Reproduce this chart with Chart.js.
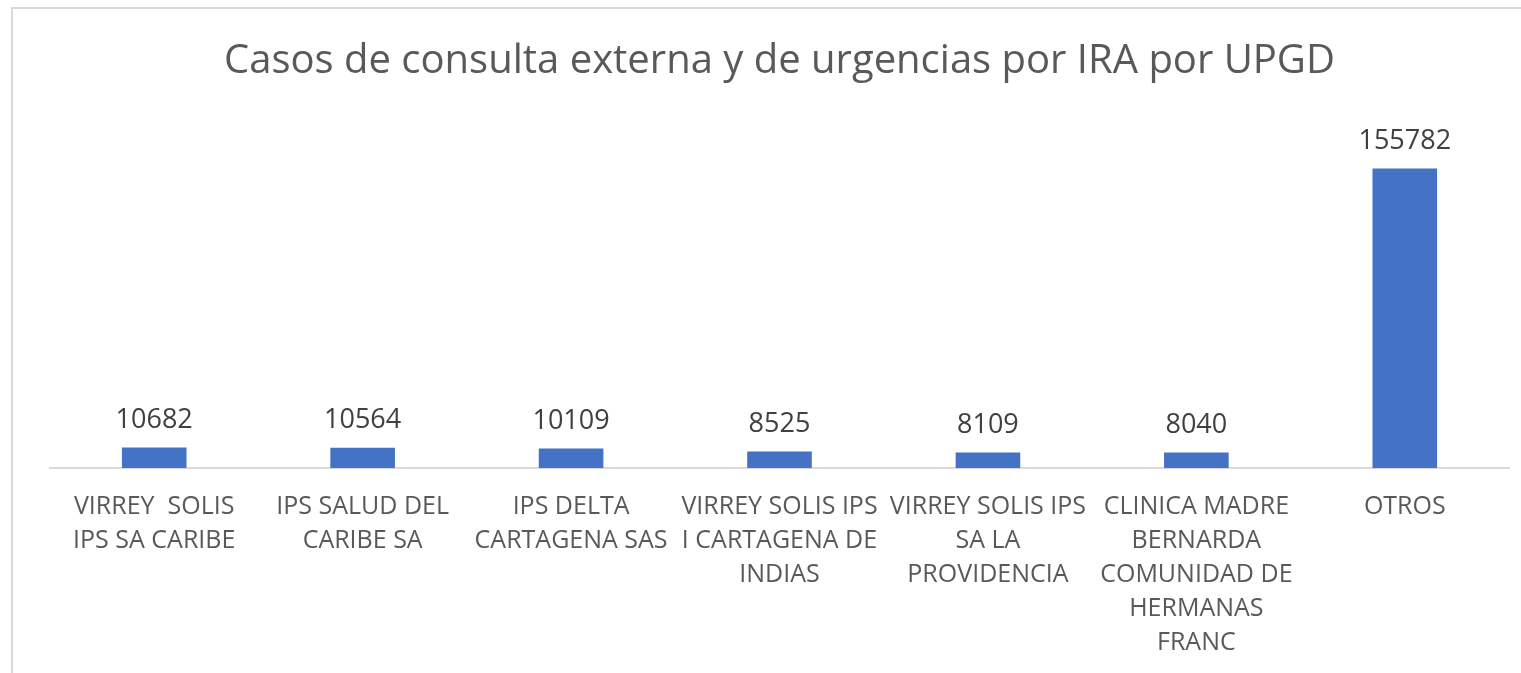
<!DOCTYPE html>
<html>
<head>
<meta charset="utf-8">
<script src="https://cdn.jsdelivr.net/npm/chart.js@4/dist/chart.umd.min.js"></script>
<style>
    html, body { margin: 0; padding: 0; background: #fff; }
    #frame { position: absolute; left: 11px; top: 7px; width: 1520px; height: 680px; border-left: 2px solid #d9d9d9; border-top: 2px solid #d9d9d9; }
    #wrap { position: absolute; left: 0; top: 0; width: 1521px; height: 673px; }
</style>
</head>
<body>
<div id="frame"></div>
<div id="wrap"><canvas id="chart"></canvas></div>
<script>
const titleText = 'Casos de consulta externa y de urgencias por IRA por UPGD';
const categories = [
    ['VIRREY  SOLIS', 'IPS SA CARIBE'],
    ['IPS SALUD DEL', 'CARIBE SA'],
    ['IPS DELTA', 'CARTAGENA SAS'],
    ['VIRREY SOLIS IPS', 'I CARTAGENA DE', 'INDIAS'],
    ['VIRREY SOLIS IPS', 'SA LA', 'PROVIDENCIA'],
    ['CLINICA MADRE', 'BERNARDA', 'COMUNIDAD DE', 'HERMANAS', 'FRANC'],
    ['OTROS']
];
const casos = [10682, 10564, 10109, 8525, 8109, 8040, 155782];

const FONT = '"Open Sans", "Noto Sans", sans-serif';

// etiquetas de valor encima de cada barra
const valueLabels = {
    id: 'valueLabels',
    afterDatasetsDraw(chart) {
        const ctx = chart.ctx;
        ctx.save();
        ctx.font = '27px ' + FONT;
        ctx.fillStyle = '#404040';
        ctx.textAlign = 'center';
        ctx.textBaseline = 'middle';
        chart.getDatasetMeta(0).data.forEach((bar, i) => {
            ctx.fillText(String(casos[i]), bar.x, bar.y - 27);
        });
        ctx.restore();
    }
};

new Chart(document.getElementById('chart'), {
    type: 'bar',
    data: {
        labels: categories,
        datasets: [{ data: casos, backgroundColor: '#4472c4', barPercentage: 0.62, categoryPercentage: 0.5 }]
    },
    options: {
        responsive: true,
        maintainAspectRatio: false,
        animation: false,
        layout: { padding: { left: 50, right: 12, top: 0, bottom: -9 } },
        plugins: {
            legend: { display: false },
            tooltip: { enabled: false },
            title: {
                display: true,
                text: titleText,
                color: '#595959',
                font: { family: FONT, size: 40, weight: 'normal' },
                padding: { top: 38, bottom: 36 }
            }
        },
        scales: {
            x: {
                grid: { display: false, drawTicks: false },
                border: { display: true, color: '#d9d9d9', width: 2 },
                ticks: {
                    color: '#595959',
                    font: { family: FONT, size: 25, lineHeight: '34px' },
                    padding: 22,
                    maxRotation: 0,
                    minRotation: 0,
                    autoSkip: false
                }
            },
            y: { display: false, min: 0, max: 180000 }
        }
    },
    plugins: [valueLabels]
});
</script>
</body>
</html>
